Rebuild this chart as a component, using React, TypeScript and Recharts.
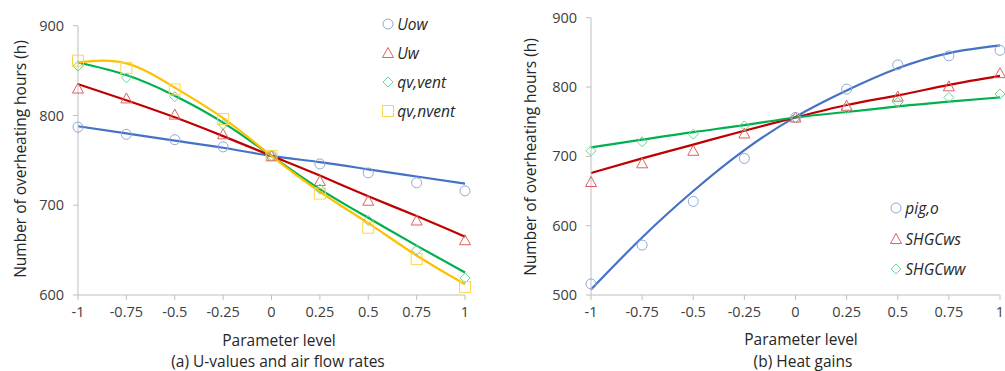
import React from "react";
import {
  ComposedChart,
  Line,
  Scatter,
  XAxis,
  YAxis,
  Legend,
} from "recharts";

// parameter levels shared by both panels
const levels = [-1, -0.75, -0.5, -0.25, 0, 0.25, 0.5, 0.75, 1];

// (a) U-values and air flow rates: simulated points and fitted curves
const uowPts = [787, 779, 773, 765, 755, 746, 736, 725, 716];
const uowFit = [788, 780, 772, 764, 755, 748, 740, 732, 724];
const uwPts = [830, 819, 801, 779, 755, 727, 705, 683, 661];
const uwFit = [835, 817, 798, 777, 755, 733, 710, 688, 665];
const qvVentPts = [855, 842, 821, 790, 755, 718, 683, 650, 619];
const qvVentFit = [859, 845, 822, 792, 755, 718, 686, 655, 625];
const qvNventPts = [861, 853, 829, 796, 755, 713, 675, 640, 609];
const qvNventFit = [859, 858, 831, 797, 755, 715, 680, 644, 612];

// (b) Heat gains
const pigPts = [516, 572, 635, 697, 756, 797, 832, 845, 853];
const pigFit = [508, 583, 650, 709, 757, 795, 827, 849, 860];
const shgcWsPts = [663, 690, 708, 733, 756, 773, 786, 801, 820];
const shgcWsFit = [676, 697, 717, 737, 756, 774, 788, 803, 816];
const shgcWwPts = [708, 721, 732, 744, 756, 769, 778, 785, 790];
const shgcWwFit = [713, 724, 735, 745, 756, 764, 772, 779, 785];

const leftTicks = [600, 700, 800, 900];
const rightTicks = [500, 600, 700, 800, 900];

const leftData = levels.map((x, i) => ({
  x,
  uowPts: uowPts[i],
  uowFit: uowFit[i],
  uwPts: uwPts[i],
  uwFit: uwFit[i],
  qvVentPts: qvVentPts[i],
  qvVentFit: qvVentFit[i],
  qvNventPts: qvNventPts[i],
  qvNventFit: qvNventFit[i],
}));

const rightData = levels.map((x, i) => ({
  x,
  pigPts: pigPts[i],
  pigFit: pigFit[i],
  shgcWsPts: shgcWsPts[i],
  shgcWsFit: shgcWsFit[i],
  shgcWwPts: shgcWwPts[i],
  shgcWwFit: shgcWwFit[i],
}));

const FONT = "'Open Sans', sans-serif";
const AXIS = "#BFBFBF";
const TICK = { fill: "#404040", fontSize: 14.5, fontFamily: FONT };

type Mark = "circle" | "triangle" | "diamond" | "square";

function marker(kind: Mark, color: string, cx: number, cy: number) {
  const common = { fill: "none", stroke: color, strokeWidth: 1 };
  if (kind === "circle") return <circle cx={cx} cy={cy} r={5} {...common} />;
  if (kind === "triangle")
    return (
      <polygon
        points={`${cx},${cy - 5.5} ${cx + 5.5},${cy + 4.5} ${cx - 5.5},${cy + 4.5}`}
        {...common}
      />
    );
  if (kind === "diamond")
    return (
      <polygon
        points={`${cx},${cy - 5} ${cx + 5},${cy} ${cx},${cy + 5} ${cx - 5},${cy}`}
        {...common}
      />
    );
  return <rect x={cx - 5.5} y={cy - 5.5} width={11} height={11} {...common} />;
}

const shapeOf = (kind: Mark, color: string) => (p: any) =>
  marker(kind, color, p.cx, p.cy);

type Series = { name: string; pts: string; fit: string; line: string; mark: string; kind: Mark };

const leftSeries: Series[] = [
  { name: "Uow", pts: "uowPts", fit: "uowFit", line: "#4472C4", mark: "#8EA9DB", kind: "circle" },
  { name: "Uw", pts: "uwPts", fit: "uwFit", line: "#C00000", mark: "#E06060", kind: "triangle" },
  { name: "qv,vent", pts: "qvVentPts", fit: "qvVentFit", line: "#00B050", mark: "#6FD494", kind: "diamond" },
  { name: "qv,nvent", pts: "qvNventPts", fit: "qvNventFit", line: "#FFC000", mark: "#FFD54F", kind: "square" },
];

const rightSeries: Series[] = [
  { name: "pig,o", pts: "pigPts", fit: "pigFit", line: "#4472C4", mark: "#8EA9DB", kind: "circle" },
  { name: "SHGCws", pts: "shgcWsPts", fit: "shgcWsFit", line: "#C00000", mark: "#E06060", kind: "triangle" },
  { name: "SHGCww", pts: "shgcWwPts", fit: "shgcWwFit", line: "#00B050", mark: "#6FD494", kind: "diamond" },
];

function LegendBox({ series, rowHeight }: { series: Series[]; rowHeight: number }) {
  return (
    <div>
      {series.map((s) => (
        <div
          key={s.name}
          style={{ display: "flex", alignItems: "center", height: rowHeight }}
        >
          <svg width={12} height={12} style={{ marginRight: 3.6 }}>
            {marker(s.kind, s.mark, 6, 6)}
          </svg>
          <span
            style={{
              fontFamily: FONT,
              fontStyle: "italic",
              fontSize: 15.5,
              color: "#262626",
              whiteSpace: "nowrap",
            }}
          >
            {s.name}
          </span>
        </div>
      ))}
    </div>
  );
}

function Panel({
  data,
  series,
  domain,
  ticks,
  width,
  margin,
  legendPos,
  rowHeight,
}: {
  data: any[];
  series: Series[];
  domain: [number, number];
  ticks: number[];
  width: number;
  margin: { top: number; right: number; left: number; bottom: number };
  legendPos: { left: number; top: number };
  rowHeight: number;
}) {
  return (
    <ComposedChart width={width} height={371} data={data} margin={margin}>
      <XAxis
        type="number"
        dataKey="x"
        domain={[-1, 1]}
        ticks={levels}
        interval={0}
        tickFormatter={(v) => String(v)}
        axisLine={{ stroke: AXIS }}
        tickLine={{ stroke: AXIS }}
        tickSize={5}
        tickMargin={7}
        tick={TICK}
        height={30}
      />
      <YAxis
        type="number"
        domain={domain}
        ticks={ticks}
        interval={0}
        axisLine={{ stroke: AXIS }}
        tickLine={{ stroke: AXIS }}
        tickSize={5}
        tickMargin={9}
        tick={TICK}
        width={60}
      />
      {series.map((s) => (
        <Line
          key={s.fit}
          type="natural"
          dataKey={s.fit}
          stroke={s.line}
          strokeWidth={2.2}
          dot={false}
          activeDot={false}
          legendType="none"
          isAnimationActive={false}
        />
      ))}
      {series.map((s) => (
        <Scatter
          key={s.pts}
          name={s.name}
          dataKey={s.pts}
          shape={shapeOf(s.kind, s.mark)}
          isAnimationActive={false}
        />
      ))}
      <Legend
        layout="vertical"
        align="center"
        verticalAlign="middle"
        wrapperStyle={{ left: legendPos.left, top: legendPos.top, width: 120 }}
        content={() => <LegendBox series={series} rowHeight={rowHeight} />}
      />
    </ComposedChart>
  );
}

const textStyle = (x: number, y: number, rotate = false): React.CSSProperties => ({
  position: "absolute",
  left: x,
  top: y,
  transform: `translate(-50%, -50%)${rotate ? " rotate(-90deg)" : ""}`,
  whiteSpace: "nowrap",
  fontFamily: FONT,
  fontSize: 15.5,
  lineHeight: "18px",
  color: "#262626",
});

export default function App() {
  return (
    <div
      style={{
        position: "absolute",
        left: 0,
        top: 0,
        width: 1005,
        height: 371,
        background: "#fff",
        overflow: "hidden",
      }}
    >
      <div style={{ position: "absolute", left: 0, top: 0 }}>
        <Panel
          data={leftData}
          series={leftSeries}
          domain={[600, 900]}
          ticks={leftTicks}
          width={500}
          margin={{ top: 25.7, right: 35, left: 18, bottom: 46 }}
          legendPos={{ left: 381.7, top: 9.8 }}
          rowHeight={29}
        />
      </div>
      <div style={{ position: "absolute", left: 500, top: 0 }}>
        <Panel
          data={rightData}
          series={rightSeries}
          domain={[500, 900]}
          ticks={rightTicks}
          width={505}
          margin={{ top: 17.7, right: 5, left: 31, bottom: 46 }}
          legendPos={{ left: 389.7, top: 192.7 }}
          rowHeight={30.6}
        />
      </div>

      <div style={textStyle(20, 159, true)}>Number of overheating hours (h)</div>
      <div style={textStyle(530, 157, true)}>Number of overheating hours (h)</div>
      <div style={textStyle(279, 340)}>Parameter level</div>
      <div style={textStyle(801, 339)}>Parameter level</div>
      <div style={textStyle(278, 361)}>(a) U-values and air flow rates</div>
      <div style={textStyle(803, 361)}>(b) Heat gains</div>
    </div>
  );
}
